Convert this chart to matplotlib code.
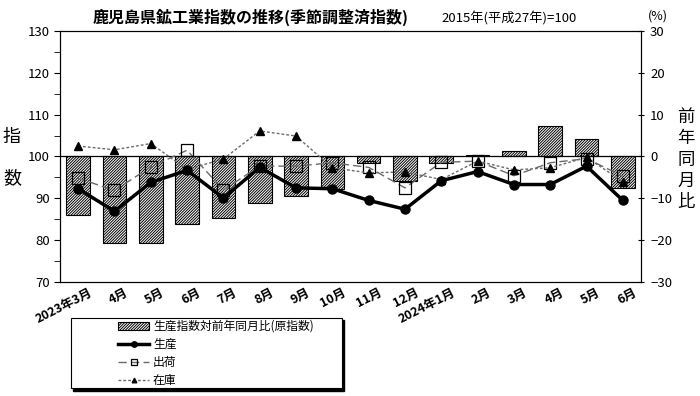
import matplotlib

matplotlib.use("Agg")
import matplotlib.pyplot as plt
from matplotlib.patches import Rectangle
from matplotlib.ticker import MultipleLocator
from matplotlib.transforms import ScaledTranslation

plt.rcParams["font.family"] = ["Noto Sans CJK JP", "DejaVu Sans"]
plt.rcParams["hatch.linewidth"] = 0.7

months = ["2023年3月", "4月", "5月", "6月", "7月", "8月", "9月", "10月", "11月",
          "12月", "2024年1月", "2月", "3月", "4月", "5月", "6月"]
production = [92.3, 86.9, 93.8, 96.7, 90.1, 97.4, 92.5, 92.3, 89.5, 87.4, 94.2, 96.4, 93.3, 93.3, 97.7, 89.5]
shipments = [94.8, 91.9, 97.5, 101.5, 92.0, 97.7, 97.7, 98.5, 97.4, 92.5, 98.6, 98.9, 95.4, 98.5, 99.5, 95.3]
inventory = [102.5, 101.6, 103.1, 96.9, 99.4, 106.1, 104.9, 97.3, 96.1, 96.3, 94.5, 98.9, 96.8, 97.3, 99.8, 94.0]
yoy_production = [-14.1, -20.6, -20.6, -16.1, -14.8, -11.0, -9.5, -7.8, -1.5, -5.9, -1.5, 0.3, 1.3, 7.2, 4.1, -7.5]

fig = plt.figure(figsize=(7.0, 3.96), dpi=100)
ax = fig.add_axes([0.0857, 0.2879, 0.83, 0.6338])
ax2 = ax.twinx()
x = list(range(len(months)))

# bars on the right (%) axis, drawn underneath the index lines
bars = ax2.bar(x, yoy_production, width=0.65, color="white", edgecolor="black",
               hatch="////////////", linewidth=0.8, label="生産指数対前年同月比(原指数)")
ax2.set_ylim(-30, 30)
ax2.set_yticks(range(-30, 31, 10))
ax2.tick_params(axis="y", direction="inout", length=5, labelsize=9.5, pad=4)

ax.set_zorder(ax2.get_zorder() + 1)
ax.patch.set_visible(False)
ax.axhline(100, color="black", lw=0.9, zorder=1)
l_prod, = ax.plot(x, production, color="black", lw=2.5, marker="o", ms=6.5, label="生産", zorder=4)
l_ship, = ax.plot(x, shipments, color="#6a6a6a", lw=1.0, ls=(0, (6, 3)), marker="s", ms=8,
                  mfc="none", mec="black", mew=0.9, label="出荷", zorder=3)
l_inv, = ax.plot(x, inventory, color="#6a6a6a", lw=1.0, ls=(0, (2, 1.5)), marker="^", ms=5.5,
                 mfc="black", mec="black", label="在庫", zorder=3)

ax.set_xlim(-0.5, len(months) - 0.5)
ax.set_ylim(70, 130)
ax.set_yticks(range(70, 131, 10))
ax.yaxis.set_minor_locator(MultipleLocator(5))
ax.tick_params(axis="y", which="both", direction="out", length=4, labelsize=9.5)
ax.set_xticks(x)
ax.set_xticklabels(months, rotation=27, ha="right", rotation_mode="anchor", fontsize=9, fontweight="bold")
ax.tick_params(axis="x", length=0, pad=3)
shift = ScaledTranslation(10 / 100, 0, fig.dpi_scale_trans)
for lab in ax.get_xticklabels():
    lab.set_transform(lab.get_transform() + shift)
for spine in list(ax.spines.values()) + list(ax2.spines.values()):
    spine.set_linewidth(0.8)

fig.text(0.358, 0.955, "鹿児島県鉱工業指数の推移(季節調整済指数)", ha="center", va="center",
         fontsize=11.5, fontweight="bold")
fig.text(0.63, 0.953, "2015年(平成27年)=100", ha="left", va="center", fontsize=9.5)
fig.text(0.94, 0.96, "(%)", ha="center", va="center", fontsize=9)
fig.text(0.017, 0.654, "指", ha="center", va="center", fontsize=13)
fig.text(0.017, 0.55, "数", ha="center", va="center", fontsize=13)
for i, ch in enumerate("前年同月比"):
    fig.text(0.98, 0.705 - i * 0.054, ch, ha="center", va="center", fontsize=12.5)

# legend box with a solid black drop shadow, legend itself placed inside
box = (0.101, 0.0194, 0.387, 0.178)
fig.patches.append(Rectangle((box[0] + 0.0035, box[1] - 0.006), box[2], box[3],
                             transform=fig.transFigure, facecolor="black", edgecolor="black", zorder=0))
fig.patches.append(Rectangle((box[0], box[1]), box[2], box[3], transform=fig.transFigure,
                             facecolor="white", edgecolor="black", linewidth=0.8, zorder=1))
fig.legend(handles=[bars, l_prod, l_ship, l_inv], loc="upper left", bbox_to_anchor=(0.168, 0.192),
           frameon=False, fontsize=8.5, handlelength=2.7, handletextpad=0.3, labelspacing=0.42,
           borderpad=0, borderaxespad=0, markerscale=0.6)

fig.savefig("out.png", dpi=100)
plt.close(fig)
